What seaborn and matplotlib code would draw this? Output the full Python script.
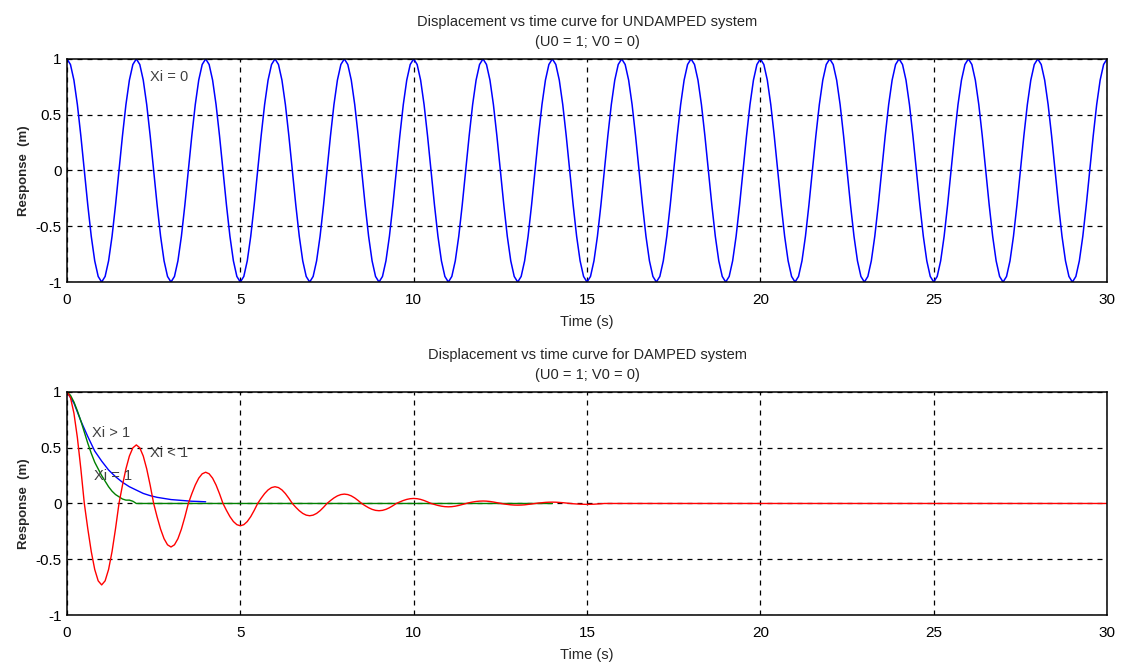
import numpy as np
import pandas as pd
import matplotlib
matplotlib.use("Agg")
import matplotlib.pyplot as plt
import seaborn as sns

# ---------------- data ----------------
# shape of one half-cycle lobe (offsets -0.5 .. 0.4 s, step 0.1 s), peak = 1
lobe_shape = [0.0, 0.31, 0.59, 0.81, 0.95, 1.0, 0.95, 0.81, 0.59, 0.31]
# undamped: every lobe reaches |1|
undamped_peaks = [1.0] * 31
# damped (Xi < 1): absolute value of successive peaks at t = 0, 1, 2, ...
underdamped_peaks = [1.0, 0.73, 0.525, 0.39, 0.28, 0.20, 0.15, 0.11, 0.084,
                     0.065, 0.045, 0.03, 0.022, 0.015, 0.012, 0.008] + [0.0] * 15
# critically damped (Xi = 1)
crit_t = [0.0, 0.1, 0.2, 0.3, 0.4, 0.5, 0.6, 0.7, 0.8, 0.9, 1.0, 1.1, 1.2, 1.3,
          1.4, 1.5, 1.6, 1.7, 1.8, 1.9, 2.0, 4.0, 6.0, 8.0, 10.0, 12.0, 14.0]
crit_u = [1.0, 0.97, 0.91, 0.83, 0.74, 0.64, 0.54, 0.45, 0.37, 0.31, 0.25, 0.20,
          0.15, 0.11, 0.08, 0.06, 0.04, 0.03, 0.03, 0.02, 0.0, 0.0, 0.0, 0.0,
          0.0, 0.0, 0.0]
# overdamped (Xi > 1)
over_t = [0.0, 0.2, 0.4, 0.6, 0.8, 1.0, 1.2, 1.4, 1.6, 1.8, 2.0, 2.2, 2.4, 2.6,
          2.8, 3.0, 3.2, 3.4, 3.6, 3.8, 4.0]
over_u = [1.0, 0.90, 0.74, 0.60, 0.47, 0.38, 0.30, 0.24, 0.19, 0.15, 0.12, 0.09,
          0.07, 0.055, 0.045, 0.035, 0.03, 0.025, 0.02, 0.018, 0.015]

x_ticks = [0, 5, 10, 15, 20, 25, 30]
y_ticks = [-1, -0.5, 0, 0.5, 1]
y_tick_labels = ["-1", "-0.5", "0", "0.5", "1"]


def build(peaks):
    vals = []
    for k, a in enumerate(peaks):
        sign = 1 if k % 2 == 0 else -1
        seg = lobe_shape[5:] if k == 0 else lobe_shape
        vals += [sign * a * s for s in seg]
    vals = vals[:301]
    t = np.round(np.arange(len(vals)) * 0.1, 2)
    return pd.DataFrame({"t": t, "u": vals})


df_und = build(undamped_peaks)
df_under = build(underdamped_peaks)
df_crit = pd.DataFrame({"t": crit_t, "u": crit_u})
df_over = pd.DataFrame({"t": over_t, "u": over_u})

# ---------------- style ----------------
sns.set_style("white")
plt.rcParams["font.family"] = ["Liberation Sans Narrow", "Liberation Sans", "DejaVu Sans"]
plt.rcParams["font.size"] = 10

fig = plt.figure(figsize=(11.22, 6.68), dpi=100)
ax1 = fig.add_axes([0.0597, 0.5778, 0.927, 0.334])
ax2 = fig.add_axes([0.0597, 0.0793, 0.927, 0.334])

sns.lineplot(data=df_und, x="t", y="u", ax=ax1, color="#0000ff", lw=1.1, sort=False)
sns.lineplot(data=df_over, x="t", y="u", ax=ax2, color="#0000ff", lw=1.0, sort=False)
sns.lineplot(data=df_crit, x="t", y="u", ax=ax2, color="#008000", lw=1.0, sort=False)
sns.lineplot(data=df_under, x="t", y="u", ax=ax2, color="#ff0000", lw=1.0, sort=False)

titles = ["Displacement vs time curve for UNDAMPED system\n(U0 = 1; V0 = 0)",
          "Displacement vs time curve for DAMPED system\n(U0 = 1; V0 = 0)"]
for ax, title in zip([ax1, ax2], titles):
    ax.set_xlim(0, 30)
    ax.set_ylim(-1, 1)
    ax.set_xticks(x_ticks)
    ax.set_yticks(y_ticks)
    ax.set_yticklabels(y_tick_labels)
    ax.tick_params(axis="x", direction="in", length=5, width=1, colors="black",
                   labelsize=11, pad=8)
    ax.tick_params(axis="y", direction="in", length=5, width=1, colors="black",
                   labelsize=11, pad=4)
    ax.grid(True, color="black", linestyle=(0, (4, 4)), linewidth=0.9)
    for sp in ax.spines.values():
        sp.set_visible(True)
        sp.set_color("black")
        sp.set_linewidth(1.1)
    ax.set_title(title, fontsize=10.5, pad=9, linespacing=1.55)
    ax.set_xlabel("Time (s)", fontsize=10.5, labelpad=6)
    ax.set_ylabel("Response  (m)", fontsize=9.5, fontweight="bold", labelpad=4)

ax1.text(2.4, 0.8, "Xi = 0", color="#404040", fontsize=10.5)
ax2.text(0.72, 0.6, "Xi > 1", color="#404040", fontsize=10.5)
ax2.text(2.4, 0.42, "Xi < 1", color="#404040", fontsize=10.5)
ax2.text(0.78, 0.21, "Xi = 1", color="#404040", fontsize=10.5)

fig.savefig("out.png", dpi=100)
